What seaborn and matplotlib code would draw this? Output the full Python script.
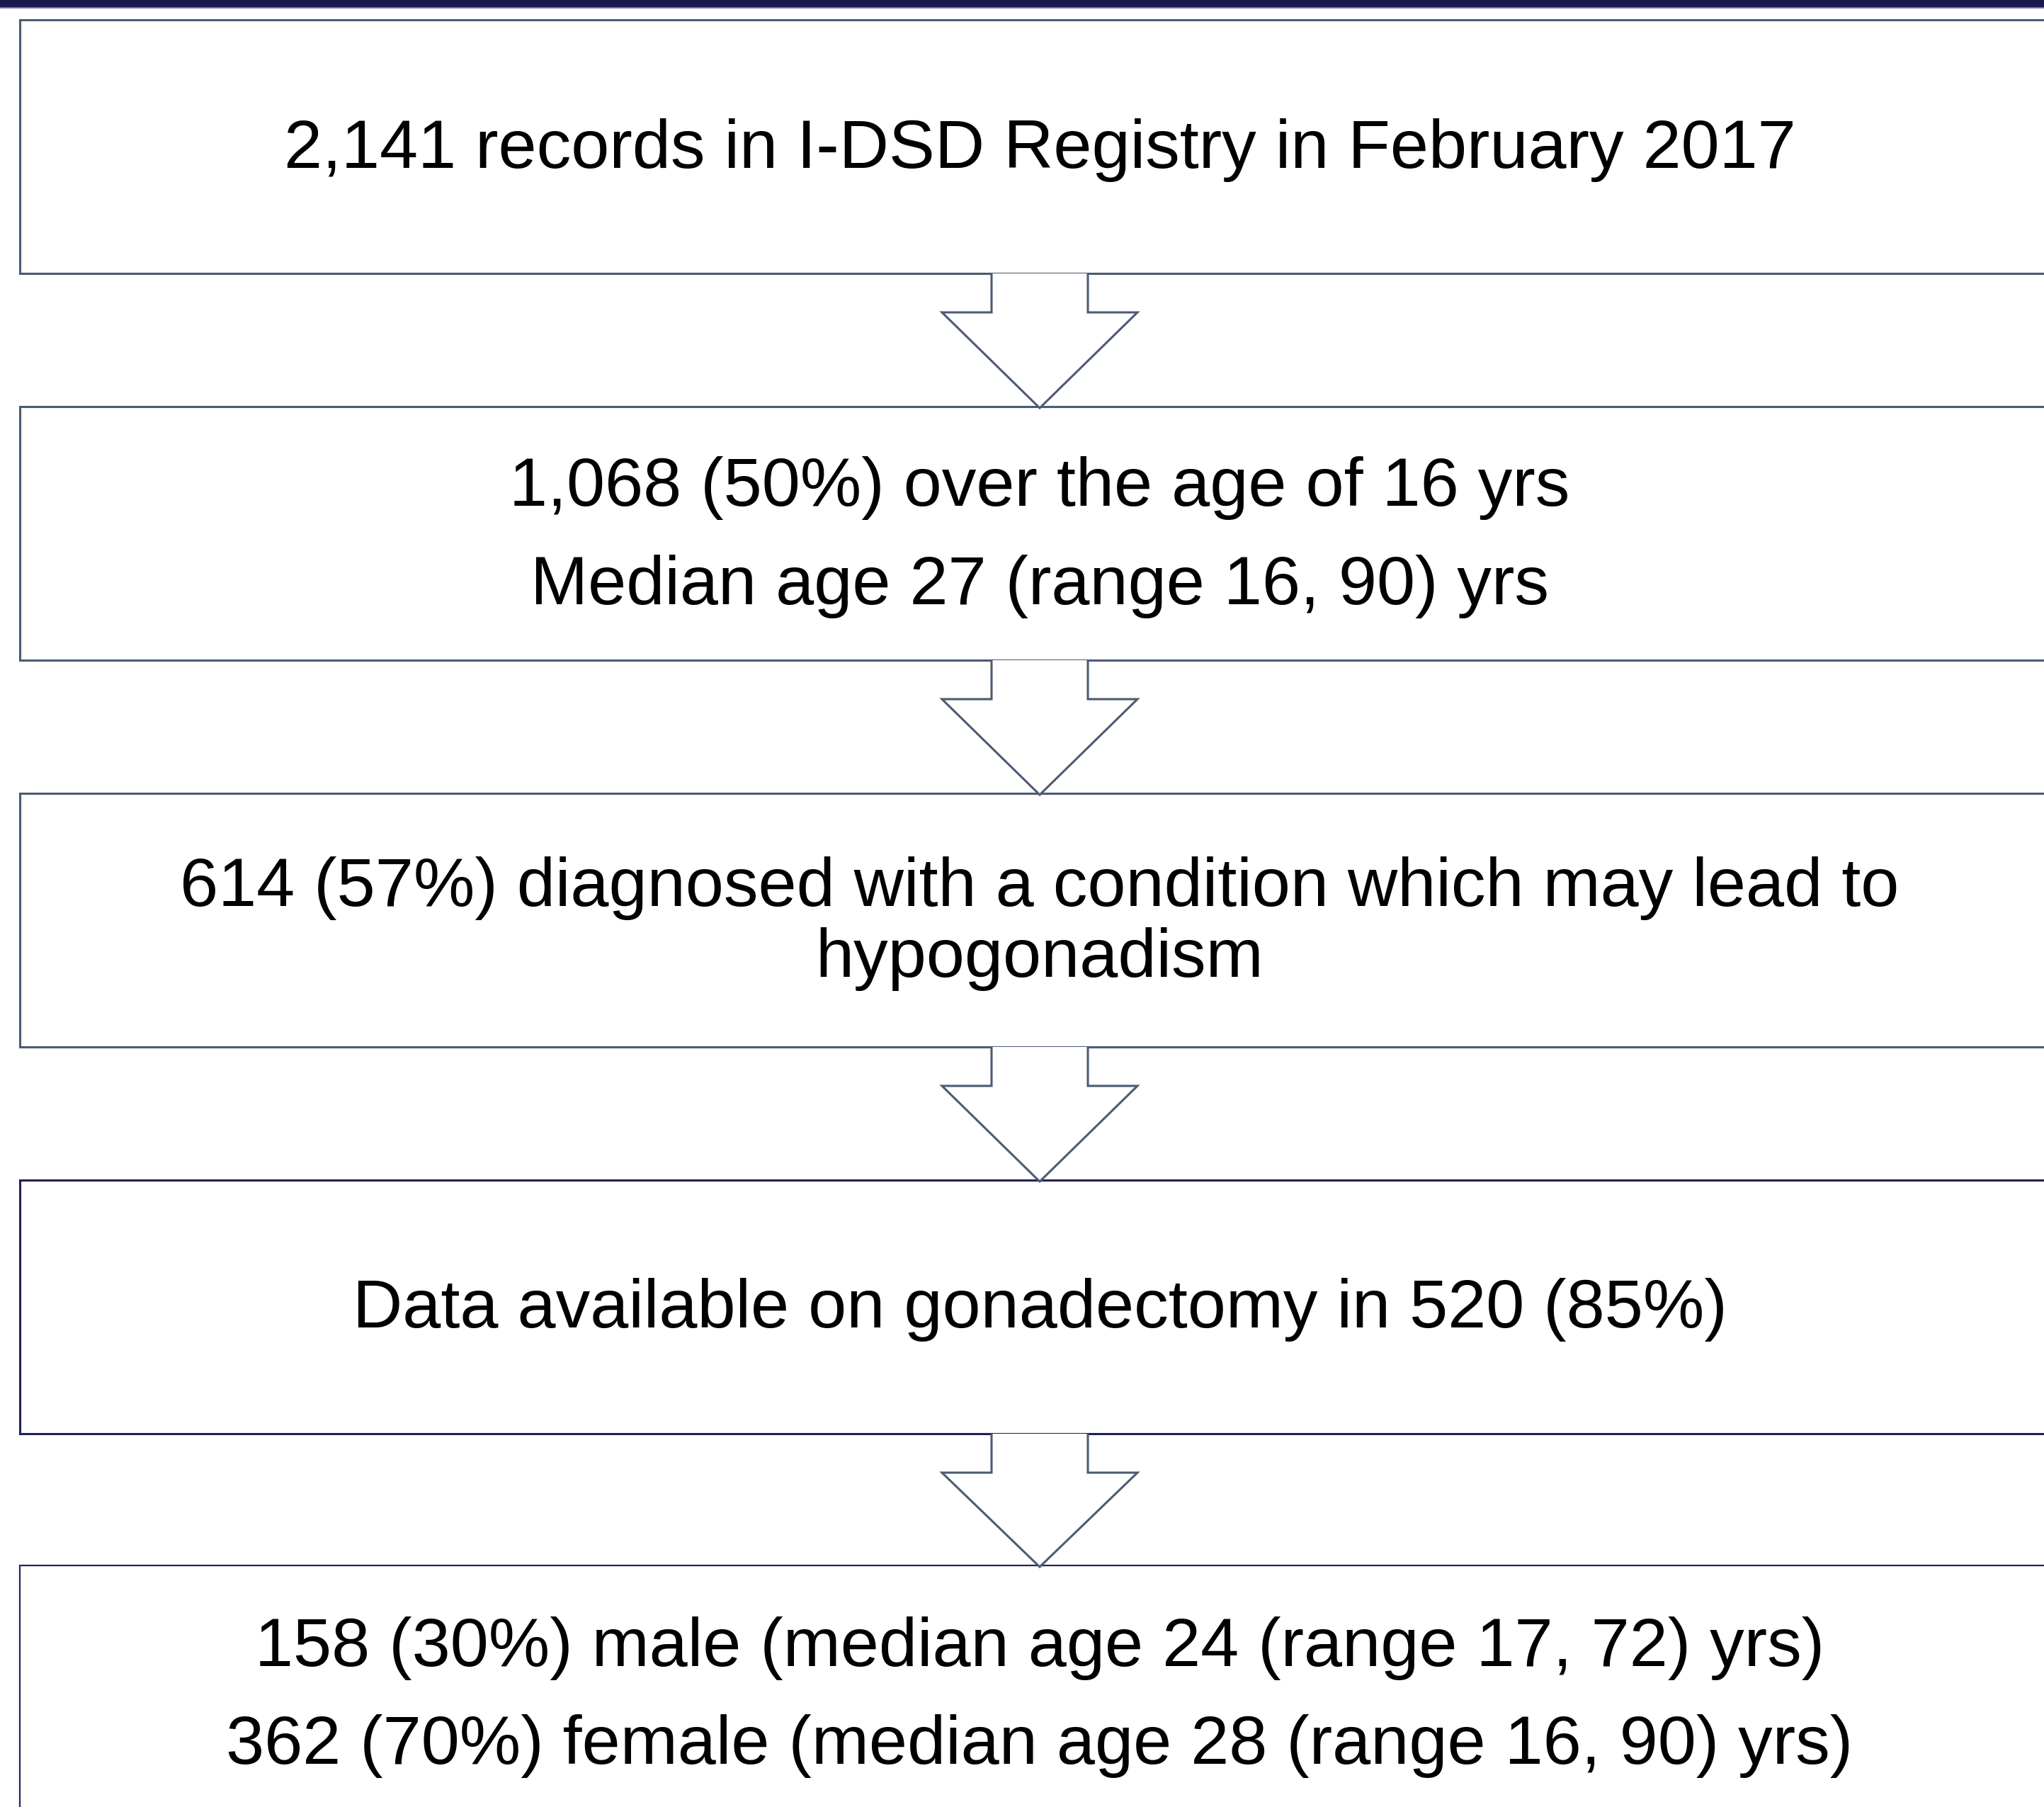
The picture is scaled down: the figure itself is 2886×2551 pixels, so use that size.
## for plotting
import matplotlib
matplotlib.use("Agg")
import matplotlib.pyplot as plt
from matplotlib.patches import Rectangle, Polygon
import seaborn as sns

## flowchart content
box_lines = [
    ["2,141 records in I-DSD Registry in February 2017"],
    ["1,068 (50%) over the age of 16 yrs",
     "Median age 27 (range 16, 90) yrs"],
    ["614 (57%) diagnosed with a condition which may lead to",
     "hypogonadism"],
    ["Data available on gonadectomy in 520 (85%)"],
    ["158 (30%) male (median age 24 (range 17, 72) yrs)",
     "362 (70%) female (median age 28 (range 16, 90) yrs)"],
]

## layout (pixels, y downwards)
W, H = 2886, 2551
box_left, box_right = 28, 2910
box_tops = [28, 574, 1120, 1666, 2210]
box_h = 358
cx = 1468
baselines = [[237], [714, 853], [1279, 1379], [1874], [2352, 2490]]
box_edge = ["#4b5b73", "#4b5b73", "#4b5b73", "#1f2156", "#23265a"]
box_lw = [2.2, 2.2, 2.2, 2.2, 1.6]
slate = "#4b5b73"
navy = "#1b1a50"

sns.set_theme(style="white")
plt.rcParams["font.family"] = ["Liberation Sans", "DejaVu Sans"]

fig = plt.figure(figsize=(W / 100, H / 100), dpi=100)
ax = fig.add_axes([0, 0, 1, 1])
ax.set_xlim(0, W)
ax.set_ylim(H, 0)
ax.axis("off")

# header band
ax.add_patch(Rectangle((0, 0), W, 10, facecolor=navy, edgecolor="none"))
ax.add_patch(Rectangle((0, 10), W, 1.5, facecolor="#7a76a0", edgecolor="none"))

for i, lines in enumerate(box_lines):
    top = box_tops[i]
    ax.add_patch(Rectangle((box_left, top), box_right - box_left, box_h,
                           facecolor="white", edgecolor=box_edge[i],
                           linewidth=box_lw[i], zorder=2))
    for txt, yb in zip(lines, baselines[i]):
        ax.text(cx, yb, txt, ha="center", va="baseline", fontsize=70,
                color="black", zorder=4)

# block arrows between boxes
stem_hw, head_hw = 68, 138
for i in range(len(box_tops) - 1):
    y0 = box_tops[i] + box_h
    y1 = y0 + 55
    tip = box_tops[i + 1] + 2
    pts = [(cx - stem_hw, y0), (cx - stem_hw, y1), (cx - head_hw, y1),
           (cx, tip), (cx + head_hw, y1), (cx + stem_hw, y1), (cx + stem_hw, y0)]
    ax.add_patch(Polygon(pts, closed=False, facecolor="white",
                         edgecolor=slate, linewidth=2.2, zorder=3))

fig.savefig("out.png", dpi=100)
